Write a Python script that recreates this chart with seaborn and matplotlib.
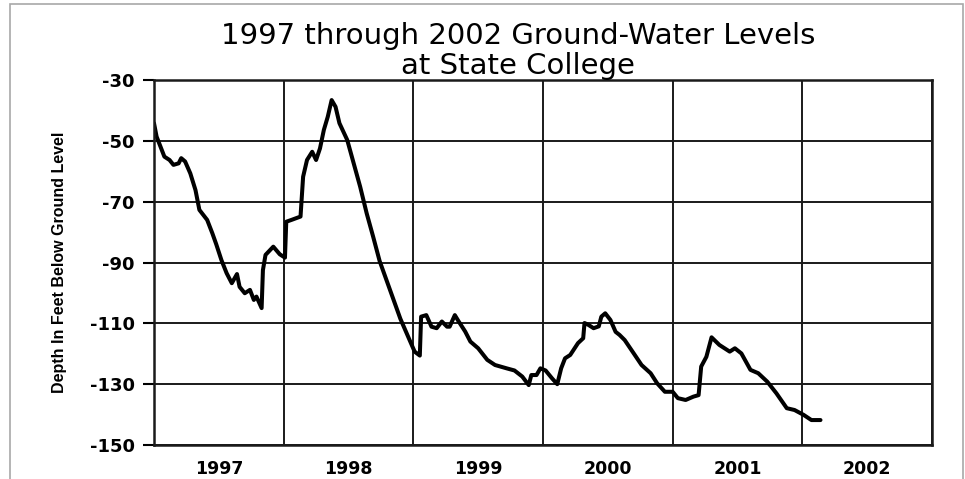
import numpy as np
import pandas as pd
import matplotlib
matplotlib.use("Agg")
import matplotlib.pyplot as plt
import seaborn as sns
from matplotlib.patches import Rectangle

# ---- data (decimal year, depth in feet below ground level) ----
years = [1997.00, 1997.02, 1997.05, 1997.08, 1997.12, 1997.15, 1997.19, 1997.21, 1997.24, 1997.28,
         1997.32, 1997.35, 1997.41, 1997.45, 1997.48, 1997.52, 1997.56, 1997.60, 1997.64, 1997.66,
         1997.70, 1997.74, 1997.77, 1997.79, 1997.83, 1997.84, 1997.86, 1997.92, 1997.97, 1998.01,
         1998.02, 1998.06, 1998.13, 1998.15, 1998.18, 1998.22, 1998.25, 1998.28, 1998.31, 1998.34,
         1998.37, 1998.40, 1998.43, 1998.49, 1998.54, 1998.59, 1998.64, 1998.69, 1998.74, 1998.82,
         1998.90, 1998.96, 1999.01, 1999.05, 1999.06, 1999.10, 1999.14, 1999.18, 1999.22, 1999.26,
         1999.28, 1999.32, 1999.35, 1999.40, 1999.44, 1999.50, 1999.57, 1999.63, 1999.72, 1999.78,
         1999.84, 1999.89, 1999.91, 1999.95, 1999.98, 2000.02, 2000.07, 2000.11, 2000.14, 2000.17,
         2000.21, 2000.27, 2000.31, 2000.32, 2000.35, 2000.39, 2000.43, 2000.45, 2000.48, 2000.52,
         2000.56, 2000.59, 2000.63, 2000.70, 2000.76, 2000.83, 2000.88, 2000.94, 2001.00, 2001.04,
         2001.10, 2001.16, 2001.20, 2001.22, 2001.26, 2001.30, 2001.36, 2001.44, 2001.48, 2001.53,
         2001.60, 2001.66, 2001.73, 2001.80, 2001.88, 2001.94, 2002.01, 2002.07, 2002.14]
depth = [-44.2, -48.6, -51.9, -55.2, -56.3, -57.9, -57.4, -55.7, -56.8, -60.7,
         -66.2, -72.7, -76.0, -80.4, -84.0, -89.2, -93.5, -96.8, -93.8, -98.0,
         -100.1, -99.0, -102.3, -101.2, -105.0, -92.5, -87.5, -84.8, -87.3, -88.4,
         -76.6, -76.0, -74.9, -61.8, -56.3, -53.6, -56.3, -52.5, -46.4, -42.1,
         -36.6, -38.8, -44.2, -49.7, -57.4, -65.1, -73.8, -81.5, -89.5, -99.0,
         -108.5, -114.4, -119.3, -120.6, -107.8, -107.3, -111.1, -111.6, -109.4, -111.1,
         -111.1, -107.3, -109.4, -112.7, -116.0, -118.2, -122.0, -123.7, -124.8, -125.5,
         -127.5, -130.3, -127.0, -127.0, -124.8, -125.5, -128.1, -130.0, -124.8, -121.5,
         -120.4, -116.5, -114.9, -109.9, -110.5, -111.6, -111.0, -107.8, -106.7, -108.9,
         -112.8, -113.8, -115.5, -119.9, -123.7, -126.4, -129.7, -132.5, -132.5, -134.6,
         -135.2, -134.1, -133.6, -124.2, -121.0, -114.6, -117.1, -119.3, -118.2, -119.9,
         -125.3, -126.4, -129.2, -133.0, -137.9, -138.5, -140.1, -141.8, -141.8]

year_labels = ["1997", "1998", "1999", "2000", "2001", "2002"]
y_ticks = [-150, -130, -110, -90, -70, -50, -30]
y_tick_labels = ["-150", "-130", "-110", "-90", "-70", "-50", "-30"]

title = "1997 through 2002 Ground-Water Levels\nat State College"
y_label = "Depth In Feet Below Ground Level"

df = pd.DataFrame({"year": years, "depth": depth})

sns.set_theme(style="white")
plt.rcParams["font.family"] = ["DejaVu Sans"]
plt.rcParams["axes.unicode_minus"] = False

fig = plt.figure(figsize=(9.65, 4.79), dpi=100)
fig.patch.set_facecolor("white")
ax = fig.add_axes([154 / 965, 1 - 445 / 479, (932 - 154) / 965, (445 - 80) / 479])

sns.lineplot(data=df, x="year", y="depth", ax=ax, color="black", linewidth=2.9,
             sort=False, estimator=None)

ax.set_xlim(1997, 2003)
ax.set_ylim(-150, -30)

# major ticks = year boundaries (grid lines), minor ticks = mid-year labels
n_years = len(year_labels)
ax.set_xticks([1997 + i for i in range(n_years + 1)])
ax.set_xticklabels([])
ax.set_xticks([1997.5 + i for i in range(n_years)], minor=True)
ax.set_xticklabels(year_labels, minor=True)
ax.tick_params(axis="x", which="both", length=0)
ax.tick_params(axis="x", which="minor", pad=11, labelsize=12.5, labelcolor="black")
for lab in ax.get_xticklabels(minor=True):
    lab.set_fontweight("bold")

ax.set_yticks(y_ticks)
ax.set_yticklabels(y_tick_labels)
ax.tick_params(axis="y", which="major", direction="out", length=8, width=1.5,
               color="black", left=True, pad=6, labelsize=13, labelcolor="black")
for lab in ax.get_yticklabels():
    lab.set_fontweight("bold")

ax.grid(True, which="major", color="#1a1a1a", linewidth=1.4)
for side in ["left", "right", "top", "bottom"]:
    ax.spines[side].set_visible(True)
    ax.spines[side].set_color("#1a1a1a")
    ax.spines[side].set_linewidth(1.8)

ax.set_xlabel("")
ax.set_ylabel(y_label, fontsize=11.5, fontweight="bold", color="black",
              family=["Liberation Sans", "DejaVu Sans"], labelpad=16)

fig.text(518 / 965, 1 - 51 / 479, title, ha="center", va="center", fontsize=21,
         color="black", linespacing=1.1)

# outer light-grey frame
fig.patches.append(Rectangle((10 / 965, -0.05), (963 - 10) / 965, 1.05 - 4 / 479,
                             transform=fig.transFigure, fill=False,
                             edgecolor="#a8a8a8", linewidth=1.2, zorder=0))

fig.savefig("out.png", dpi=100, facecolor="white")
